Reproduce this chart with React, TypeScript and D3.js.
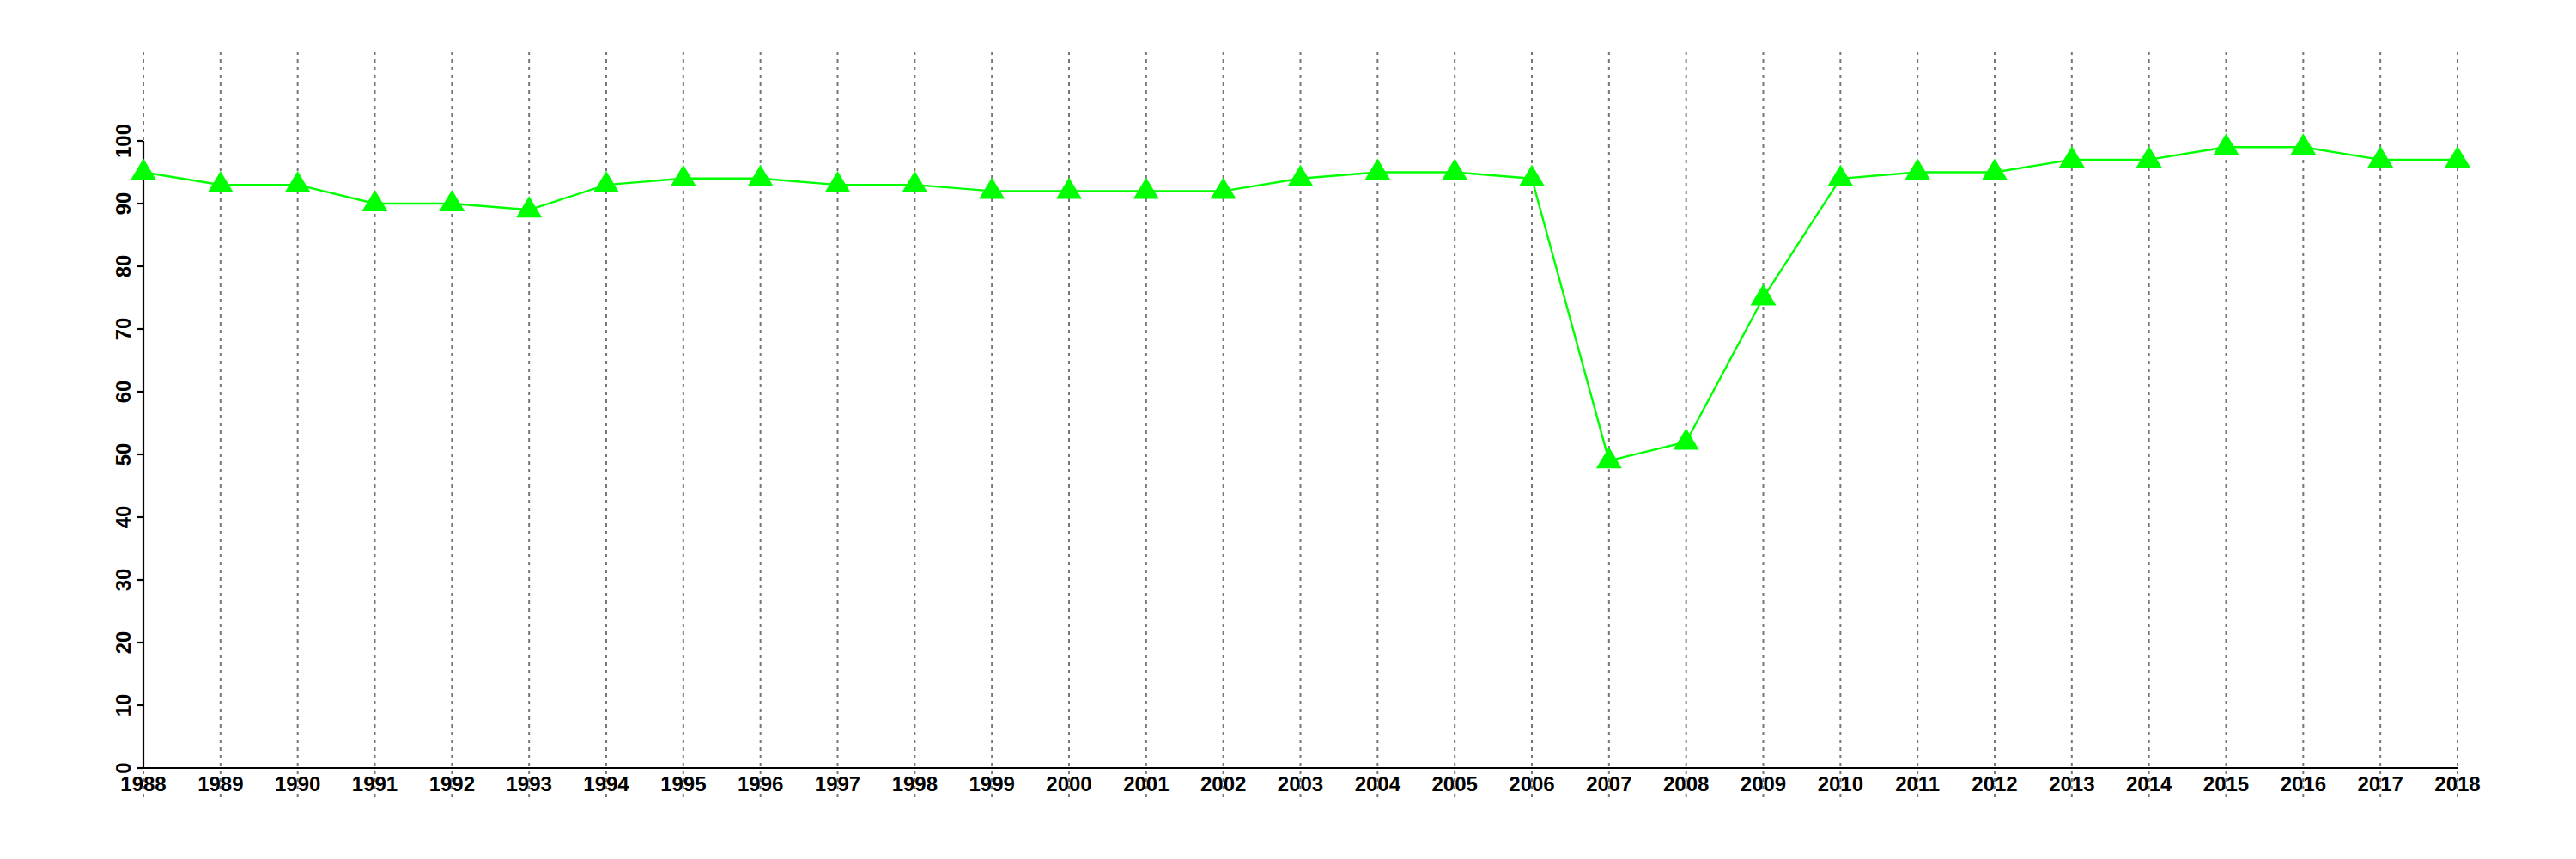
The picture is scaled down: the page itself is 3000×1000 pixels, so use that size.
import { useMemo } from "react";
import * as d3 from "d3";

const years = [
  1988, 1989, 1990, 1991, 1992, 1993, 1994, 1995, 1996, 1997, 1998, 1999,
  2000, 2001, 2002, 2003, 2004, 2005, 2006, 2007, 2008, 2009, 2010, 2011,
  2012, 2013, 2014, 2015, 2016, 2017, 2018,
];
const values = [
  95, 93, 93, 90, 90, 89, 93, 94, 94, 93, 93, 92, 92, 92, 92, 94, 95, 95, 94,
  49, 52, 75, 94, 95, 95, 97, 97, 99, 99, 97, 97,
];
const yTicks = [0, 10, 20, 30, 40, 50, 60, 70, 80, 90, 100];

const WIDTH = 3000;
const HEIGHT = 1000;
const FONT = "'Liberation Sans', Arial, Helvetica, sans-serif";

/**
 * triangle marker (pch 17 style), centroid sits on the point
 */
const trianglePath = "M0,-16L15,9L-15,9Z";

const App = () => {
  const x = useMemo(
    () => d3.scaleLinear().domain([1988, 2018]).range([167, 2862]),
    []
  );
  const y = useMemo(
    () => d3.scaleLinear().domain([0, 100]).range([894, 164]),
    []
  );

  const line = d3
    .line<number>()
    .x((_d, i) => x(years[i]))
    .y((d) => y(d));

  return (
    <svg
      width={WIDTH}
      height={HEIGHT}
      style={{ position: "absolute", left: 0, top: 0, background: "#fff" }}
    >
      {/* vertical dotted grid */}
      <g>
        {years.map((yr) => (
          <line
            key={yr}
            x1={x(yr)}
            x2={x(yr)}
            y1={60}
            y2={928}
            stroke="#777"
            strokeWidth={2}
            strokeDasharray="4,5"
          />
        ))}
      </g>

      {/* y axis */}
      <g>
        <line x1={x(1988)} x2={x(1988)} y1={y(0)} y2={y(100)} stroke="#000" strokeWidth={2.2} />
        {yTicks.map((t) => (
          <g key={t}>
            <line x1={x(1988) - 8} x2={x(1988)} y1={y(t)} y2={y(t)} stroke="#000" strokeWidth={2.2} />
            <text
              transform={`translate(152,${y(t)}) rotate(-90)`}
              textAnchor="middle"
              fontFamily={FONT}
              fontWeight="bold"
              fontSize={24}
              fill="#000"
            >
              {t}
            </text>
          </g>
        ))}
      </g>

      {/* x axis */}
      <g>
        <line x1={x(1988)} x2={x(2018)} y1={y(0)} y2={y(0)} stroke="#000" strokeWidth={2.2} />
        {years.map((yr) => (
          <text
            key={yr}
            x={x(yr)}
            y={921}
            textAnchor="middle"
            fontFamily={FONT}
            fontWeight="bold"
            fontSize={24}
            fill="#000"
          >
            {yr}
          </text>
        ))}
      </g>

      {/* series */}
      <path d={line(values) ?? ""} fill="none" stroke="#00ff00" strokeWidth={2.4} />
      <g>
        {values.map((v, i) => (
          <path
            key={years[i]}
            d={trianglePath}
            transform={`translate(${x(years[i])},${y(v)})`}
            fill="#00ff00"
          />
        ))}
      </g>
    </svg>
  );
};

export default App;
